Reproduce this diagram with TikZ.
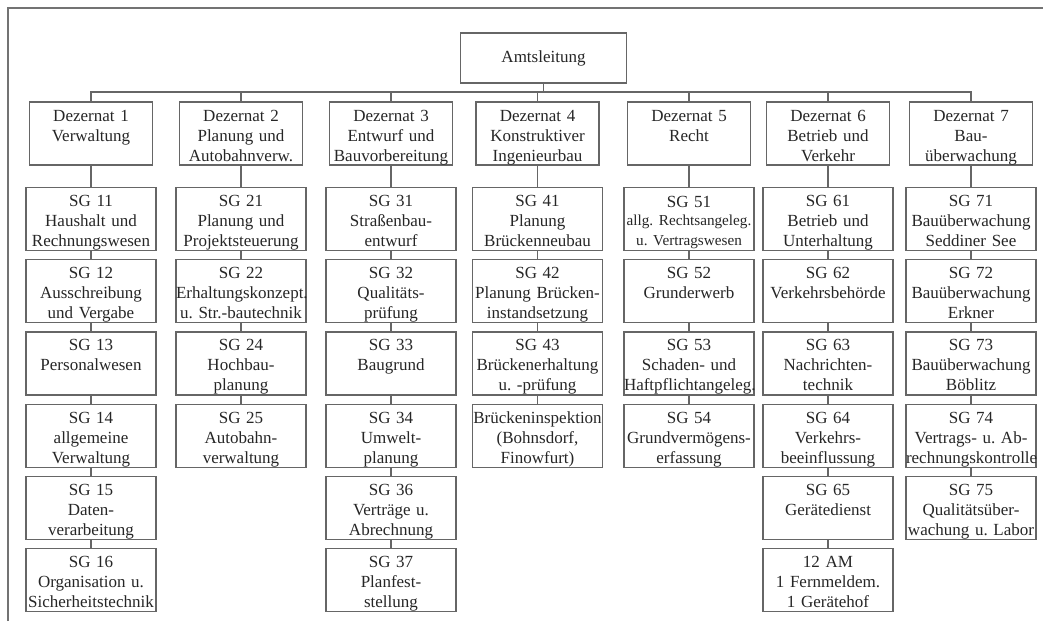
\documentclass[tikz,border=0pt]{standalone}
\usepackage{fontspec}
\setmainfont{Liberation Serif}
\usetikzlibrary{positioning}
\hyphenpenalty=10000

\begin{document}
\begin{tikzpicture}[x=0.5pt, y=-0.5pt,
    box/.style={draw=black!60, line width=0.65pt, text=black!85, inner xsep=0pt, inner ysep=0pt,
      text width=65pt, minimum height=31.5pt, align=center, font=\fontsize{8.5}{10}\selectfont\frenchspacing,
      execute at begin node={\rule{0pt}{9.5pt}}, execute at end node={\rule[-2pt]{0pt}{2pt}}},
    dezbox/.style={box, text width=61.5pt},
    topbox/.style={draw=black!60, line width=0.65pt, text=black!85, fill=white,
      minimum width=83pt, minimum height=25pt, font=\fontsize{8.5}{10}\selectfont},
    link/.style={draw=black!60, line width=0.65pt},
    frame/.style={draw=black!55, line width=1pt}]
  \useasboundingbox (0,0) rectangle (1043,621);
  \draw[frame] (8,621) -- (8,8) -- (1043,8);

  \node[topbox] (amt) at (543.5,58) {Amtsleitung};
  \coordinate (bus) at (0,92);

  \node[dezbox] (dez1) at (91,133.5) {Dezernat 1\\Verwaltung\\~};
  \node[dezbox] (dez2) at (241,133.5) {Dezernat 2\\Planung und\\Autobahnverw.};
  \node[dezbox] (dez3) at (391,133.5) {Dezernat 3\\Entwurf und\\Bauvorbereitung};
  \node[dezbox] (dez4) at (537.5,133.5) {Dezernat 4\\Konstruktiver\\Ingenieurbau};
  \node[dezbox] (dez5) at (689,133.5) {Dezernat 5\\Recht\\~};
  \node[dezbox] (dez6) at (828,133.5) {Dezernat 6\\Betrieb und\\Verkehr};
  \node[dezbox] (dez7) at (971,133.5) {Dezernat 7\\Bau-\\überwachung};

  \node[box, below=10.5pt of dez1] (sg11) {SG 11\\Haushalt und\\Rechnungswesen};
  \node[box, below=4pt of sg11] (sg12) {SG 12\\Ausschreibung\\und Vergabe};
  \node[box, below=4pt of sg12] (sg13) {SG 13\\Personalwesen\\~};
  \node[box, below=4pt of sg13] (sg14) {SG 14\\allgemeine\\Verwaltung};
  \node[box, below=4pt of sg14] (sg15) {SG 15\\Daten-\\verarbeitung};
  \node[box, below=4pt of sg15] (sg16) {SG 16\\Organisation u.\\Sicherheitstechnik};

  \node[box, below=10.5pt of dez2] (sg21) {SG 21\\Planung und\\Projektsteuerung};
  \node[box, below=4pt of sg21] (sg22) {SG 22\\Erhaltungskonzept.\\u. Str.-bautechnik};
  \node[box, below=4pt of sg22] (sg24) {SG 24\\Hochbau-\\planung};
  \node[box, below=4pt of sg24] (sg25) {SG 25\\Autobahn-\\verwaltung};

  \node[box, below=10.5pt of dez3] (sg31) {SG 31\\Straßenbau-\\entwurf};
  \node[box, below=4pt of sg31] (sg32) {SG 32\\Qualitäts-\\prüfung};
  \node[box, below=4pt of sg32] (sg33) {SG 33\\Baugrund\\~};
  \node[box, below=4pt of sg33] (sg34) {SG 34\\Umwelt-\\planung};
  \node[box, below=4pt of sg34] (sg36) {SG 36\\Verträge u.\\Abrechnung};
  \node[box, below=4pt of sg36] (sg37) {SG 37\\Planfest-\\stellung};

  \node[box, below=10.5pt of dez4] (sg41) {SG 41\\Planung\\Brückenneubau};
  \node[box, below=4pt of sg41] (sg42) {SG 42\\Planung Brücken-\\instandsetzung};
  \node[box, below=4pt of sg42] (sg43) {SG 43\\Brückenerhaltung\\u. -prüfung};
  \node[box, below=4pt of sg43] (insp) {Brückeninspektion\\(Bohnsdorf,\\Finowfurt)};

  \node[box, below=10.5pt of dez5] (sg51) {SG 51\\\fontsize{7.6}{9}\selectfont allg. Rechtsangeleg.\\u. Vertragswesen};
  \node[box, below=4pt of sg51] (sg52) {SG 52\\Grunderwerb\\~};
  \node[box, below=4pt of sg52] (sg53) {SG 53\\Schaden- und\\Haftpflichtangeleg.};
  \node[box, below=4pt of sg53] (sg54) {SG 54\\Grundvermögens-\\erfassung};

  \node[box, below=10.5pt of dez6] (sg61) {SG 61\\Betrieb und\\Unterhaltung};
  \node[box, below=4pt of sg61] (sg62) {SG 62\\Verkehrsbehörde\\~};
  \node[box, below=4pt of sg62] (sg63) {SG 63\\Nachrichten-\\technik};
  \node[box, below=4pt of sg63] (sg64) {SG 64\\Verkehrs-\\beeinflussung};
  \node[box, below=4pt of sg64] (sg65) {SG 65\\Gerätedienst\\~};
  \node[box, below=4pt of sg65] (am) {12 AM\\1 Fernmeldem.\\1 Gerätehof};

  \node[box, below=10.5pt of dez7] (sg71) {SG 71\\Bauüberwachung\\Seddiner See};
  \node[box, below=4pt of sg71] (sg72) {SG 72\\Bauüberwachung\\Erkner};
  \node[box, below=4pt of sg72] (sg73) {SG 73\\Bauüberwachung\\Böblitz};
  \node[box, below=4pt of sg73] (sg74) {SG 74\\Vertrags- u. Ab-\\rechnungskontrolle};
  \node[box, below=4pt of sg74] (sg75) {SG 75\\Qualitätsüber-\\wachung u. Labor};

  \draw[link] (amt) -- (amt |- bus);
  \draw[link] (dez1) -- (dez1 |- bus) -- (dez7 |- bus) -- (dez7);
  \draw[link] (dez2) -- (dez2 |- bus);
  \draw[link] (dez3) -- (dez3 |- bus);
  \draw[link] (dez4) -- (dez4 |- bus);
  \draw[link] (dez5) -- (dez5 |- bus);
  \draw[link] (dez6) -- (dez6 |- bus);

  \draw[link] (dez1) -- (sg11) -- (sg12) -- (sg13) -- (sg14) -- (sg15) -- (sg16);
  \draw[link] (dez2) -- (sg21) -- (sg22) -- (sg24) -- (sg25);
  \draw[link] (dez3) -- (sg31) -- (sg32) -- (sg33) -- (sg34) -- (sg36) -- (sg37);
  \draw[link] (dez4) -- (sg41) -- (sg42) -- (sg43) -- (insp);
  \draw[link] (dez5) -- (sg51) -- (sg52) -- (sg53) -- (sg54);
  \draw[link] (dez6) -- (sg61) -- (sg62) -- (sg63) -- (sg64) -- (sg65) -- (am);
  \draw[link] (dez7) -- (sg71) -- (sg72) -- (sg73) -- (sg74) -- (sg75);
\end{tikzpicture}
\end{document}
